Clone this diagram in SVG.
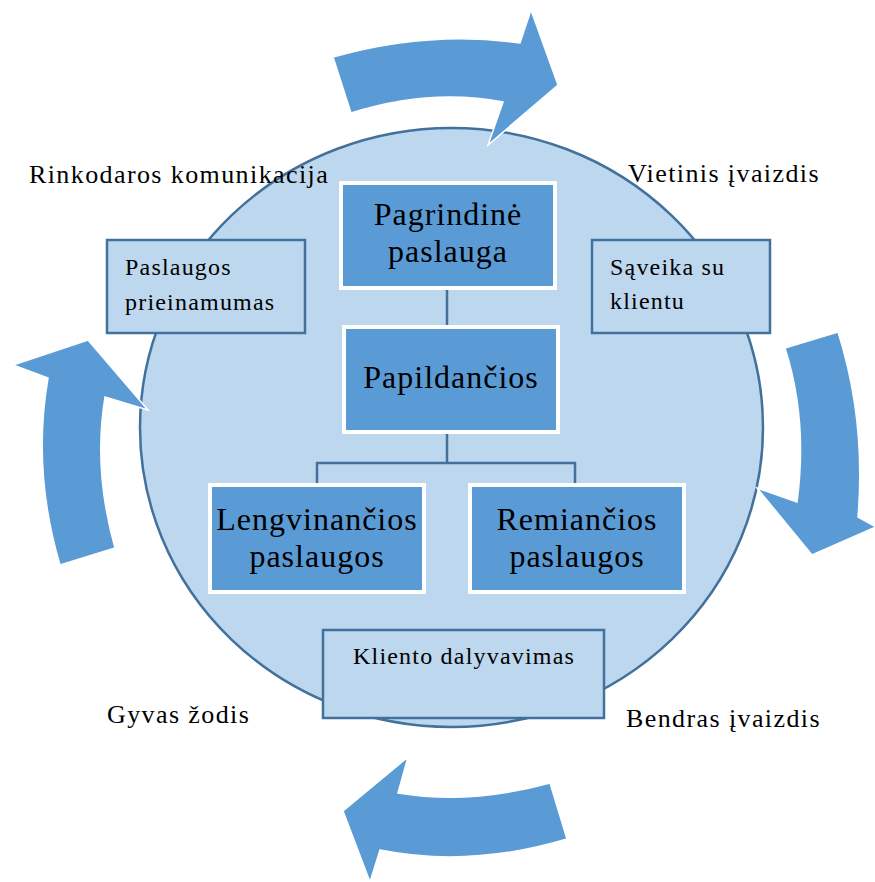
<svg xmlns="http://www.w3.org/2000/svg" width="875" height="882" viewBox="0 0 875 882">
<style>
.arrow{fill:#5B9BD5;stroke:#FFFFFF;stroke-width:1.5;stroke-linejoin:miter}
.dark{fill:#5B9BD5;stroke:#FFFFFF;stroke-width:4}
.light{fill:#BDD7EE;stroke:#41719C;stroke-width:2.5}
.conn{fill:none;stroke:#41719C;stroke-width:2.5}
text{font-family:"Liberation Serif","Times New Roman",serif;fill:#000000}
.big{font-size:32px;letter-spacing:1px;text-anchor:middle}
.small{font-size:24px;letter-spacing:1.2px}
.corner{font-size:26px;letter-spacing:1.4px}
</style>
<rect width="875" height="882" fill="#FFFFFF"/>
<g id="circle">
<ellipse cx="451.5" cy="427.5" rx="311.5" ry="299.5" fill="#BDD7EE" stroke="#41719C" stroke-width="2.5"/>
</g>
<g id="arrows">
<path class="arrow" d="M 333,57 Q 430,30 520,43 L 531,10 L 558,85 L 488,145 L 503,102 Q 430,88 351,113 Z"/>
<path class="arrow" d="M 785,348 L 838,332 Q 866,420 858,517 L 876,527 L 812,555 L 757,488 L 797,502 Q 808,420 785,348 Z"/>
<path class="arrow" d="M 550,783 L 567,839 Q 470,868 380,850 L 370,882 L 343,811 L 408,757 L 398,793 Q 470,805 550,783 Z"/>
<path class="arrow" d="M 60,565 L 115,548 Q 93,470 105,397 L 148,410 L 88,340 L 13,365 L 48,378 Q 32,470 60,565 Z"/>
</g>
<g id="connectors">
<line class="conn" x1="447" y1="290" x2="447" y2="325"/>
<polyline class="conn" points="447,433 447,463"/>
<polyline class="conn" points="317,483 317,463 575,463 575,483"/>
</g>
<g id="node-pagrindine">
<rect class="dark" x="341" y="183" width="214" height="105"/>
<text class="big" x="448" y="225">Pagrindinė</text>
<text class="big" x="448" y="262">paslauga</text>
</g>
<g id="node-papildancios">
<rect class="dark" x="344" y="327" width="214" height="105"/>
<text class="big" x="451" y="388">Papildančios</text>
</g>
<g id="node-lengvinancios">
<rect class="dark" x="210" y="485" width="214" height="107"/>
<text class="big" x="317" y="530">Lengvinančios</text>
<text class="big" x="317" y="567">paslaugos</text>
</g>
<g id="node-remiancios">
<rect class="dark" x="470" y="485" width="214" height="107"/>
<text class="big" x="577" y="530">Remiančios</text>
<text class="big" x="577" y="567">paslaugos</text>
</g>
<g id="node-prieinamumas">
<rect class="light" x="107" y="240" width="198" height="93"/>
<text class="small" x="125" y="275">Paslaugos</text>
<text class="small" x="125" y="310">prieinamumas</text>
</g>
<g id="node-saveika">
<rect class="light" x="592" y="240" width="178" height="93"/>
<text class="small" x="610" y="275">Sąveika su</text>
<text class="small" x="610" y="309">klientu</text>
</g>
<g id="node-dalyvavimas">
<rect class="light" x="323" y="630" width="281" height="88"/>
<text class="small" x="353" y="664">Kliento dalyvavimas</text>
</g>
<g id="labels">
<text class="corner" x="29" y="183">Rinkodaros komunikacija</text>
<text class="corner" x="628" y="182">Vietinis įvaizdis</text>
<text class="corner" x="107" y="723">Gyvas žodis</text>
<text class="corner" x="626" y="727">Bendras įvaizdis</text>
</g>
</svg>
